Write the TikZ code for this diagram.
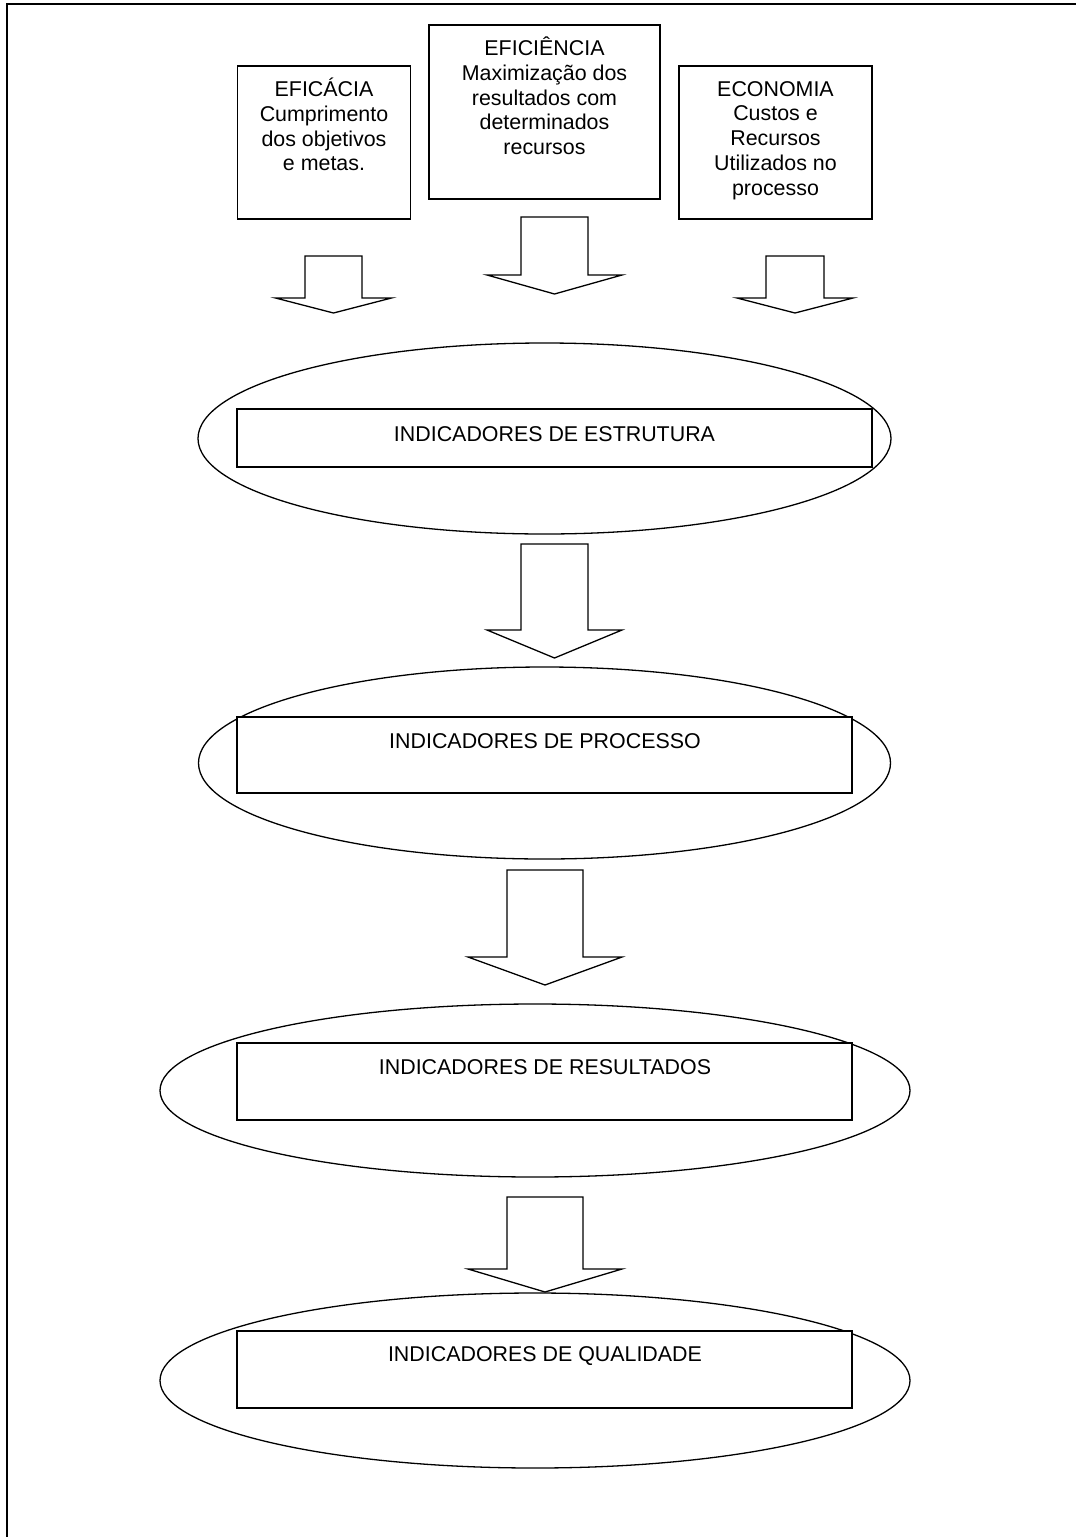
\documentclass[tikz,border=0pt]{standalone}
\usepackage{fontspec}
\setmainfont{Liberation Sans}
\usetikzlibrary{shapes.geometric}

% hollow block arrow pointing down; #1 top-centre coordinate, #2 shaft half-width,
% #3 depth of the shoulder, #4 head half-width, #5 depth of the tip
\newcommand{\hollowdown}[5]{%
  \draw[blockarrow,shift={(#1)}] (-#2,0) -- (#2,0) -- (#2,#3) -- (#4,#3)
    -- (0,#5) -- (-#4,#3) -- (-#2,#3) -- cycle;}

\tikzset{
  txt/.style={font=\fontsize{21.4}{24.7}\selectfont, inner sep=0pt, align=center},
  topbox/.style={draw, line width=1.5pt, fill=white, inner sep=0pt},
  oval/.style={draw, ellipse, line width=1.3pt, inner sep=0pt},
  band/.style={draw, rectangle, line width=1.5pt, fill=white, inner sep=0pt},
  blockarrow/.style={draw, line width=1.3pt, fill=white, line join=miter},
  frame/.style={line width=2pt}
}

\begin{document}
\begin{tikzpicture}[x=1pt,y=-1pt]
\useasboundingbox (0,0) rectangle (1076,1537);

% page frame (top and left edges)
\coordinate (fl) at (7,1537);
\coordinate (fc) at (7,4);
\coordinate (fr) at (1076,4);
\draw[frame] (fl) -- (fc) -- (fr);

% three criteria boxes
\node[topbox, minimum width=173pt, minimum height=153pt] (eficacia) at (324,142.5) {};
\node[topbox, minimum width=231pt, minimum height=174pt] (eficiencia) at (544.5,112) {};
\node[topbox, minimum width=193pt, minimum height=153pt] (economia) at (775.5,142.5) {};

% multi-line texts: the base anchor sits on the last line
\node[txt, anchor=base] (teficacia) at (324,170.8)
  {EFICÁCIA\\Cumprimento\\dos objetivos\\e metas.};
\node[txt, anchor=base] (teficiencia) at (544.5,154.6)
  {EFICIÊNCIA\\Maximização dos\\resultados com\\determinados\\recursos};
\node[txt, anchor=base] (teconomia) at (775.5,195)
  {ECONOMIA\\Custos e\\Recursos\\Utilizados no\\processo};

% arrows under the criteria boxes
\coordinate (aleft) at (333.5,256);
\coordinate (amid) at (554.5,217);
\coordinate (aright) at (795,256);
\hollowdown{aleft}{28.5}{42}{58}{57}
\hollowdown{amid}{33.5}{58}{67.5}{77}
\hollowdown{aright}{29}{42}{58}{57}

% indicator levels
\node[oval, minimum width=693pt, minimum height=191pt] (oestrutura) at (544.5,438.5) {};
\node[band, minimum width=635pt, minimum height=58pt] (estrutura) at (554.5,438) {};
\node[txt, anchor=base] (testrutura) at (554.5,441) {INDICADORES DE ESTRUTURA};

\node[oval, minimum width=692pt, minimum height=192pt] (oprocesso) at (544.5,763) {};
\node[band, minimum width=615pt, minimum height=76pt] (processo) at (544.5,755) {};
\node[txt, anchor=base] (tprocesso) at (545,748) {INDICADORES DE PROCESSO};

\node[oval, minimum width=750pt, minimum height=173pt] (oresultados) at (535,1090.5) {};
\node[band, minimum width=615pt, minimum height=77pt] (resultados) at (544.5,1081.5) {};
\node[txt, anchor=base] (tresultados) at (545,1074) {INDICADORES DE RESULTADOS};

\node[oval, minimum width=750pt, minimum height=175pt] (oqualidade) at (535,1380.5) {};
\node[band, minimum width=615pt, minimum height=77pt] (qualidade) at (544.5,1369.5) {};
\node[txt, anchor=base] (tqualidade) at (545,1361) {INDICADORES DE QUALIDADE};

% arrows between the levels
\coordinate (a1) at (554.5,544);
\coordinate (a2) at (545,870);
\coordinate (a3) at (545,1197);
\hollowdown{a1}{33.5}{86}{67.5}{114}
\hollowdown{a2}{38}{87}{77}{115}
\hollowdown{a3}{38}{72}{77}{95}
\end{tikzpicture}
\end{document}
